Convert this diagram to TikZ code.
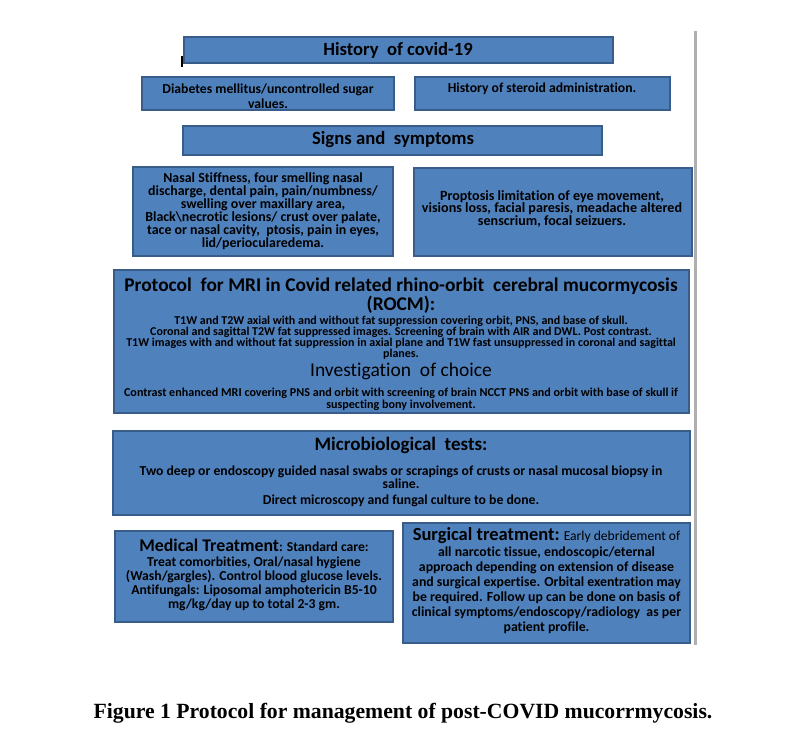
\documentclass[tikz,border=0pt]{standalone}
\usepackage{fontspec}
\setmainfont{Carlito}[Ligatures={NoCommon}]
\newfontfamily\capfont{Liberation Serif}
\definecolor{boxfill}{RGB}{79,129,189}
\definecolor{boxline}{RGB}{56,93,138}
\definecolor{vrule}{RGB}{175,175,175}
\newcommand\fs[2]{\fontsize{#1}{#2}\selectfont}
\begin{document}
\begin{tikzpicture}[x=1pt,y=-1pt,
  bx/.style={draw=boxline, fill=boxfill, line width=1.6pt, inner sep=0pt},
  tx/.style={align=center, inner sep=0pt, text=black, font=\bfseries}]
\useasboundingbox (0,0) rectangle (805,730);
\fill[white] (0,0) rectangle (805,730);

% boxes
\node[bx, minimum width=429pt, minimum height=26pt] (b1) at (398.5,50) {};
\node[bx, minimum width=252pt, minimum height=33pt] (b2) at (268,93.5) {};
\node[bx, minimum width=255pt, minimum height=33pt] (b3) at (542.5,93.5) {};
\node[bx, minimum width=419pt, minimum height=29pt] (b4) at (392.5,140.5) {};
\node[bx, minimum width=260pt, minimum height=89pt] (b5) at (263,211.5) {};
\node[bx, minimum width=278pt, minimum height=88pt] (b6) at (553,212) {};
\node[bx, minimum width=575pt, minimum height=143pt] (b7) at (401.5,341.5) {};
\node[bx, minimum width=577pt, minimum height=84pt] (b8) at (401.5,473) {};
\node[bx, minimum width=278pt, minimum height=91pt] (b9) at (254,576.5) {};
\node[bx, minimum width=287pt, minimum height=120pt] (b10) at (546.5,583) {};

% cursor mark and right rule
\coordinate (c1) at (182,56);
\coordinate (c2) at (182,67);
\draw[black, line width=2pt] (c1) -- (c2);
\coordinate (r1) at (695.5,31);
\coordinate (r2) at (695.5,645);
\draw[vrule, line width=2.5pt] (r1) -- (r2);

% texts
\node[tx, font=\bfseries\fs{18.6}{18.6}] (t1) at (398,50) {History\ \ of covid-19};
\node[tx, font=\bfseries\fs{13.7}{15.5}] (t2) at (268,96) {Diabetes mellitus/uncontrolled sugar\\values.};
\node[tx, font=\bfseries\fs{13.7}{15.5}] (t3) at (542,89) {History of steroid administration.};
\node[tx, font=\bfseries\fs{18.7}{18.7}] (t4) at (393,139.5) {Signs and\ \ symptoms};
\node[tx, font=\bfseries\fs{13.9}{12.9}] (t5) at (263,211) {Nasal Stiffness, four smelling nasal\\discharge, dental pain, pain/numbness/\\swelling over maxillary area,\\Black\textbackslash necrotic lesions/ crust over palate,\\tace or nasal cavity,\ \ ptosis, pain in eyes,\\lid/periocularedema.};
\node[tx, font=\bfseries\fs{14.1}{12.9}] (t6) at (552,209) {Proptosis limitation of eye movement,\\visions loss, facial paresis, meadache altered\\senscrium, focal seizuers.};

\node[tx, font=\bfseries\fs{19.4}{19}] (t7) at (401,296) {Protocol\ \ for MRI in Covid related rhino-orbit\ \ cerebral mucormycosis\\(ROCM):};
\node[tx, font=\bfseries\fs{12}{10.9}] (t8) at (401,337.5) {T1W and T2W axial with and without fat suppression covering orbit, PNS, and base of skull.\\Coronal and sagittal T2W fat suppressed images. Screening of brain with AIR and DWL. Post contrast.\\T1W images with and without fat suppression in axial plane and T1W fast unsuppressed in coronal and sagittal\\planes.};
\node[tx, font=\fs{19.5}{19.5}] (t9) at (401,371) {Investigation\ \ of choice};
\node[tx, font=\bfseries\fs{12.1}{11.5}] (t10) at (401,399.5) {Contrast enhanced MRI covering PNS and orbit with screening of brain NCCT PNS and orbit with base of skull if\\suspecting bony involvement.};

\node[tx, font=\bfseries\fs{19}{19}] (t11) at (401,445) {Microbiological\ \ tests:};
\node[tx, font=\bfseries\fs{13.7}{12.5}] (t12) at (401,477) {Two deep or endoscopy guided nasal swabs or scrapings of crusts or nasal mucosal biopsy in\\saline.};
\node[tx, font=\bfseries\fs{13.7}{13}] (t13) at (401,501) {Direct microscopy and fungal culture to be done.};

\node[tx] (t14) at (254,545) {{\fs{17.8}{17.8}Medical Treatment}{\fs{13.6}{13.6}: Standard care:}};
\node[tx, font=\bfseries\fs{13.7}{14}] (t15) at (254,584) {Treat comorbities, Oral/nasal hygiene\\(Wash/gargles). Control blood glucose levels.\\Antifungals: Liposomal amphotericin B5-10\\mg/kg/day up to total 2-3 gm.};

\node[tx] (t16) at (546.5,536) {{\fs{18.5}{18.5}Surgical treatment:}{\mdseries\fs{13.6}{13.6} Early debridement of}};
\node[tx, font=\bfseries\fs{13.8}{15}] (t17) at (546.5,590.5) {all narcotic tissue, endoscopic/eternal\\approach depending on extension of disease\\and surgical expertise. Orbital exentration may\\be required. Follow up can be done on basis of\\clinical symptoms/endoscopy/radiology\ \ as per\\patient profile.};

\node[tx, font=\capfont\bfseries\fs{21.7}{21.7}] (cap) at (403,713) {Figure 1 Protocol for management of post-COVID mucorrmycosis.};
\end{tikzpicture}
\end{document}
